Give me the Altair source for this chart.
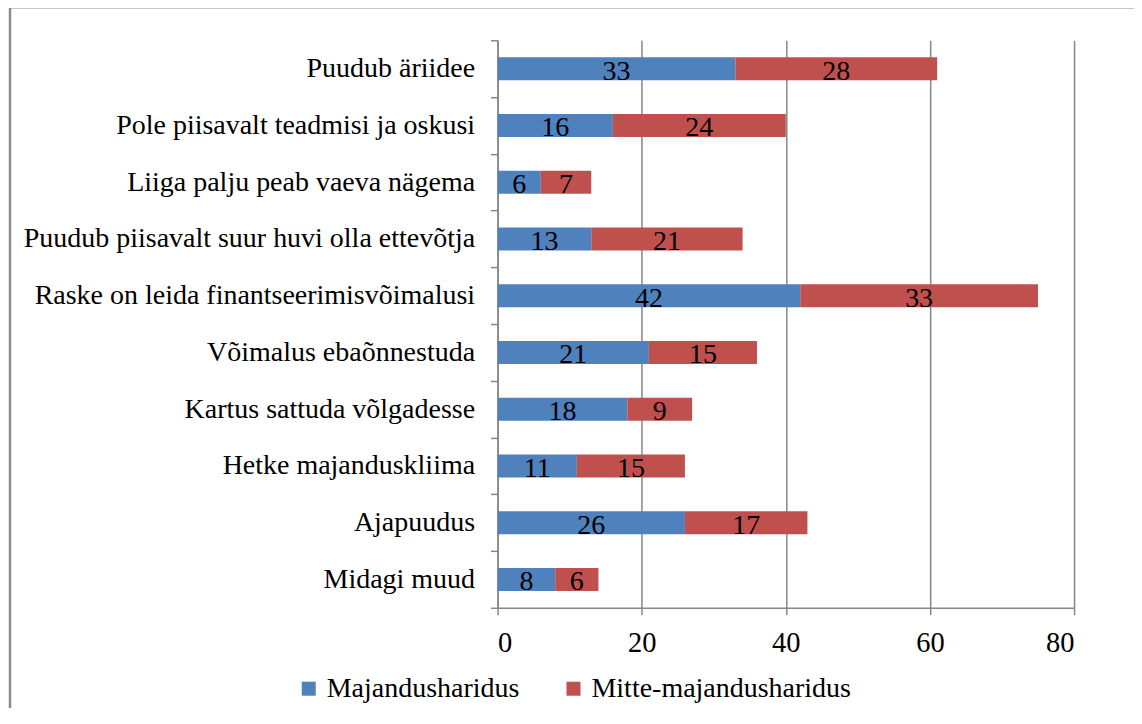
import altair as alt
import pandas as pd

categories = [
    "Puudub äriidee",
    "Pole piisavalt teadmisi ja oskusi",
    "Liiga palju peab vaeva nägema",
    "Puudub piisavalt suur huvi olla ettevõtja",
    "Raske on leida finantseerimisvõimalusi",
    "Võimalus ebaõnnestuda",
    "Kartus sattuda võlgadesse",
    "Hetke majanduskliima",
    "Ajapuudus",
    "Midagi muud",
]
majandus = [33, 16, 6, 13, 42, 21, 18, 11, 26, 8]
mitte = [28, 24, 7, 21, 33, 15, 9, 15, 17, 6]
series = ["Majandusharidus", "Mitte-majandusharidus"]
colors = ["#4F81BD", "#C0504D"]
x_ticks = [0, 20, 40, 60, 80]

FONT = "'Liberation Serif', 'Times New Roman', Times, serif"
GREY = "#868686"

rows = []
for i, c in enumerate(categories):
    rows.append({"category": c, "series": series[0], "value": majandus[i], "order": 0})
    rows.append({"category": c, "series": series[1], "value": mitte[i], "order": 1})
df = pd.DataFrame(rows)

base = alt.Chart(df).transform_stack(
    stack="value", groupby=["category"], sort=[alt.SortField("order")], as_=["x0", "x1"]
).transform_calculate(mid="(datum.x0 + datum.x1) / 2")

y_enc = alt.Y(
    "category:N",
    sort=categories,
    scale=alt.Scale(paddingInner=0, paddingOuter=0),
    axis=alt.Axis(
        title=None, tickBand="extent", grid=False,
        domainColor=GREY, domainWidth=1.5, tickColor=GREY, tickWidth=1.5, tickSize=7,
        labelFont=FONT, labelFontSize=28, labelColor="#000", labelPadding=16, labelLimit=700,
    ),
)
x_enc = alt.X(
    "x0:Q",
    scale=alt.Scale(domain=[0, 80], nice=False),
    axis=alt.Axis(
        title=None, values=x_ticks, grid=True, gridColor=GREY, gridWidth=1.5,
        domainColor=GREY, domainWidth=1.5, tickColor=GREY, tickWidth=1.5, tickSize=7,
        labelFont=FONT, labelFontSize=28.5, labelColor="#000", labelPadding=14,
    ),
)

bars = base.mark_bar(size=23).encode(
    y=y_enc,
    x=x_enc,
    x2="x1:Q",
    color=alt.Color(
        "series:N",
        scale=alt.Scale(domain=series, range=colors),
        legend=alt.Legend(
            title=None, orient="none", legendX=-203, legendY=635, direction="horizontal",
            symbolType="square", symbolSize=196, symbolStrokeWidth=0, symbolOpacity=1,
            labelFont=FONT, labelFontSize=28, labelColor="#000", labelOffset=4,
            columnPadding=40, labelLimit=0,
        ),
    ),
)

labels = base.mark_text(font=FONT, fontSize=28, dy=3, color="#000").encode(
    y=alt.Y("category:N", sort=categories),
    x=alt.X("mid:Q"),
    text="value:Q",
)

border = alt.Chart(pd.DataFrame({"b": [0]})).mark_rect(
    fill="transparent", stroke="#8c8c8c", strokeWidth=2.5
).encode(
    x=alt.value(-488), x2=alt.value(800), y=alt.value(-33), y2=alt.value(900)
)

chart = alt.layer(border, bars, labels).properties(
    width=577,
    height=568,
    autosize=alt.AutoSizeParams(type="none"),
    padding={"left": 490, "top": 32, "right": 60, "bottom": 100},
).configure_view(strokeWidth=0)

chart.save("out.html", embed_options={"renderer": "svg", "actions": False})
